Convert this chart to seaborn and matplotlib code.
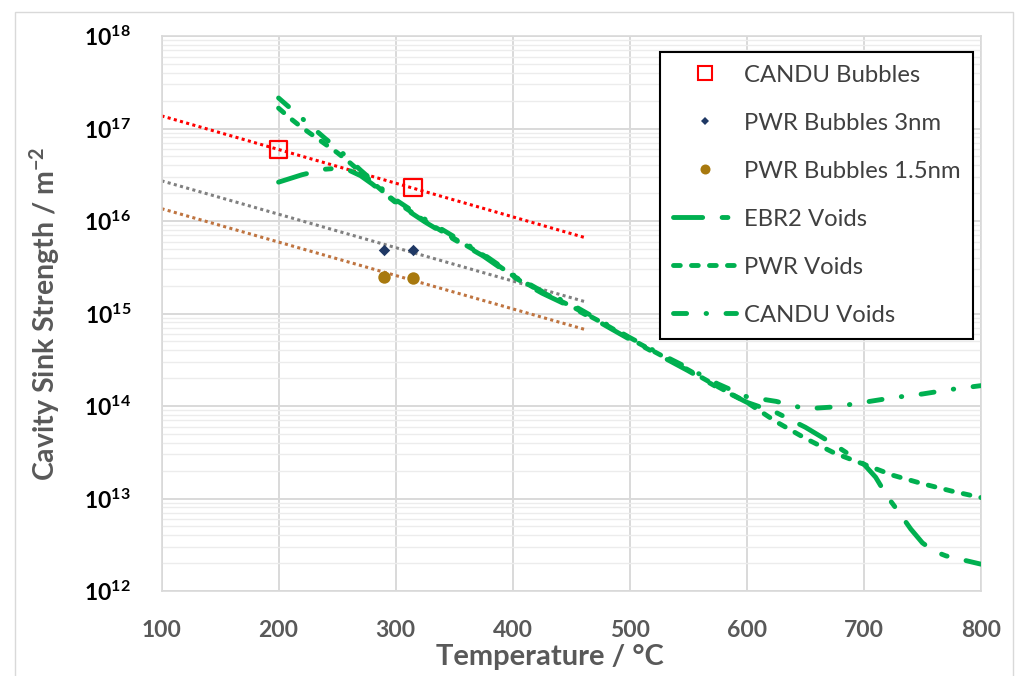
import numpy as np
import pandas as pd
import matplotlib
matplotlib.use("Agg")
import matplotlib.pyplot as plt
import matplotlib.ticker as mticker
from matplotlib.lines import Line2D
from matplotlib.patches import Rectangle
import seaborn as sns

# Bubble measurements: temperature (°C) and cavity sink strength (m^-2)
candu_bubble_temp = [200, 315]
candu_bubble_sink = [5.9e16, 2.3e16]
pwr3_bubble_temp = [290, 315]
pwr3_bubble_sink = [4.9e15, 4.8e15]
pwr15_bubble_temp = [290, 315]
pwr15_bubble_sink = [2.5e15, 2.4e15]

# Exponential trend lines drawn alongside the bubble data
trend_temp = [100, 462]
candu_trend = [1.37e17, 6.6e15]
pwr3_trend = [2.72e16, 1.34e15]
pwr15_trend = [1.36e16, 6.7e14]

# Void sink strength curves, given as log10(sink strength / m^-2)
void_temp = [200, 210, 220, 230, 240, 250, 260, 270, 280, 290, 300, 325, 350,
             375, 400, 425, 450, 475, 500, 525, 550, 575, 600, 625, 650, 675,
             700, 725, 750, 775, 800]
candu_void_log = [17.33, 17.22, 17.11, 17.00, 16.89, 16.79, 16.67, 16.55, 16.44,
                  16.33, 16.23, 16.02, 15.83, 15.64, 15.42, 15.24, 15.10, 14.92,
                  14.74, 14.57, 14.41, 14.24, 14.10, 14.05, 13.97, 13.99, 14.04,
                  14.09, 14.13, 14.18, 14.22]
pwr_void_log = [17.22, 17.11, 17.01, 16.92, 16.83, 16.74, 16.64, 16.53, 16.42,
                16.31, 16.21, 16.00, 15.81, 15.63, 15.41, 15.23, 15.08, 14.91,
                14.73, 14.56, 14.39, 14.21, 14.04, 13.83, 13.65, 13.49, 13.37,
                13.25, 13.16, 13.08, 13.01]
ebr2_void_temp = [200, 210, 220, 230, 240, 250, 260, 270, 280, 290, 300, 325,
                  350, 375, 400, 425, 450, 475, 500, 525, 550, 575, 600, 625,
                  650, 675, 700, 710, 720, 730, 740, 750, 760, 770, 780, 790, 800]
ebr2_void_log = [16.42, 16.46, 16.50, 16.53, 16.56, 16.57, 16.55, 16.49, 16.40,
                 16.30, 16.20, 15.99, 15.80, 15.62, 15.40, 15.22, 15.07, 14.90,
                 14.72, 14.55, 14.38, 14.20, 14.04, 13.93, 13.77, 13.58, 13.37,
                 13.23, 13.02, 12.85, 12.67, 12.52, 12.43, 12.38, 12.35, 12.32,
                 12.29]

x_ticks = [100, 200, 300, 400, 500, 600, 700, 800]
y_decades = [12, 13, 14, 15, 16, 17, 18]

GREEN = "#00B050"
TEXT_GREY = "#595959"
GRID = "#d9d9d9"

sns.set_theme(style="white")
plt.rcParams["font.family"] = ["Lato", "DejaVu Sans"]
plt.rcParams["mathtext.fontset"] = "custom"
plt.rcParams["mathtext.rm"] = "Lato"
plt.rcParams["mathtext.bf"] = "Lato:bold"
plt.rcParams["mathtext.it"] = "Lato:italic"

fig = plt.figure(figsize=(10.16, 6.76), dpi=100)
ax = fig.add_axes([161.5 / 1016, 1 - 591 / 676, (981 - 161.5) / 1016, (591 - 36) / 676])
ax.set_yscale("log")

# Dotted trend lines
trend_df = pd.DataFrame({"T": trend_temp, "candu": candu_trend,
                         "pwr3": pwr3_trend, "pwr15": pwr15_trend})
for col, colr in [("candu", "#FF0000"), ("pwr3", "#808080"), ("pwr15", "#BF7440")]:
    sns.lineplot(data=trend_df, x="T", y=col, ax=ax, color=colr, lw=2.2,
                 linestyle=(0, (1.0, 1.1)), dash_capstyle="butt", zorder=2)

# Void curves
voids = pd.DataFrame({"T": void_temp,
                      "candu": 10.0 ** np.array(candu_void_log),
                      "pwr": 10.0 ** np.array(pwr_void_log)})
ebr2 = pd.DataFrame({"T": ebr2_void_temp, "ebr2": 10.0 ** np.array(ebr2_void_log)})

ebr2_style = (0, (6.0, 4.0, 1.2, 4.0))
pwr_style = (0, (1.4, 2.3))
candu_style = (0, (2.7, 4.0, 0.1, 4.0))
LW = 3.5

sns.lineplot(data=ebr2, x="T", y="ebr2", ax=ax, color=GREEN, lw=LW,
             linestyle=ebr2_style, dash_capstyle="round", zorder=3)
sns.lineplot(data=voids, x="T", y="pwr", ax=ax, color=GREEN, lw=LW,
             linestyle=pwr_style, dash_capstyle="round", zorder=3)
sns.lineplot(data=voids, x="T", y="candu", ax=ax, color=GREEN, lw=LW,
             linestyle=candu_style, dash_capstyle="round", zorder=3)

# Bubble markers
sns.scatterplot(x=candu_bubble_temp, y=candu_bubble_sink, ax=ax, marker="s",
                s=160, facecolors="none", edgecolor="#FF0000", linewidth=1.6, zorder=5)
sns.scatterplot(x=pwr3_bubble_temp, y=pwr3_bubble_sink, ax=ax, marker="D",
                s=34, color="#1F3864", linewidth=0, zorder=5)
sns.scatterplot(x=pwr15_bubble_temp, y=pwr15_bubble_sink, ax=ax, marker="o",
                s=80, color="#A8790E", linewidth=0, zorder=5)

# Axes, ticks and grid
ax.set_xlim(100, 800)
ax.set_ylim(10.0 ** y_decades[0], 10.0 ** y_decades[-1])
ax.set_xticks(x_ticks)
ax.set_xticklabels([str(t) for t in x_ticks])
ax.set_yticks([10.0 ** d for d in y_decades])
ax.set_yticklabels([r"$\mathbf{10^{%d}}$" % d for d in y_decades])
ax.yaxis.set_minor_locator(mticker.LogLocator(base=10, subs=np.arange(2, 10)))
ax.yaxis.set_minor_formatter(mticker.NullFormatter())
ax.tick_params(axis="both", which="both", length=0)
ax.tick_params(axis="x", pad=21, labelsize=16.5, labelcolor=TEXT_GREY)
ax.tick_params(axis="y", pad=22, labelsize=16.5, labelcolor="black")
for lab in ax.get_xticklabels():
    lab.set_fontweight("bold")

ax.grid(which="major", axis="both", color=GRID, lw=1.4, zorder=0)
ax.grid(which="minor", axis="y", color="#ececec", lw=1.0, zorder=0)
ax.set_axisbelow(True)
for sp in ax.spines.values():
    sp.set_color(GRID)
    sp.set_linewidth(1.2)

ax.set_xlabel("Temperature / °C", fontsize=21, fontweight="bold", color=TEXT_GREY)
ax.set_ylabel(r"Cavity Sink Strength / m$^{\mathbf{-2}}$", fontsize=20.5,
              fontweight="bold", color=TEXT_GREY)
ax.xaxis.set_label_coords(0.474, -0.095)
ax.yaxis.set_label_coords(-0.121, 0.5)

# Legend
handles = [
    Line2D([], [], ls="none", marker="s", ms=10, mfc="none", mec="#FF0000", mew=1.5),
    Line2D([], [], ls="none", marker="D", ms=4.2, color="#1F3864", mew=0),
    Line2D([], [], ls="none", marker="o", ms=7.2, color="#A8790E", mew=0),
    Line2D([], [], color=GREEN, lw=LW, linestyle=ebr2_style, dash_capstyle="round"),
    Line2D([], [], color=GREEN, lw=LW, linestyle=pwr_style, dash_capstyle="round"),
    Line2D([], [], color=GREEN, lw=LW, linestyle=candu_style, dash_capstyle="round"),
]
labels = ["CANDU Bubbles", "PWR Bubbles 3nm", "PWR Bubbles 1.5nm",
          "EBR2 Voids", "PWR Voids", "CANDU Voids"]
leg = ax.legend(handles, labels, loc="upper left",
                bbox_to_anchor=(660 / 1016, 1 - 51.7 / 676),
                bbox_transform=fig.transFigure, borderaxespad=0,
                fontsize=17.2, handlelength=2.65, handletextpad=0.3,
                labelspacing=1.13, borderpad=0.55, fancybox=False,
                framealpha=1, edgecolor="black", labelcolor="#404040")
leg.get_frame().set_linewidth(1.5)

# Chart-area border
fig.patches.append(Rectangle((15 / 1016, -0.05), (1013 - 15) / 1016,
                             1.05 - 12 / 676, transform=fig.transFigure,
                             fill=False, edgecolor=GRID, lw=1.0))

fig.savefig("out.png", dpi=100)
